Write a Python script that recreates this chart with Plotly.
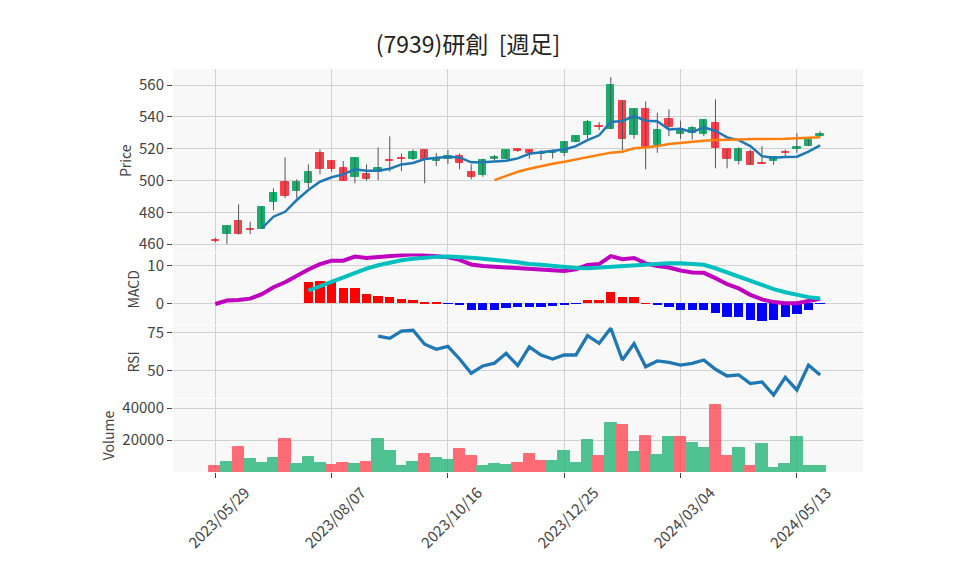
import pandas as pd
import plotly.graph_objects as go

# ---------------- data ----------------
dates = pd.date_range("2023-05-29", periods=53, freq="7D")

open_ = [462.6, 466.5, 474.3, 469.3, 469.6, 486.6, 499.0, 493.5, 498.6, 517.0,
         512.2, 507.6, 502.3, 503.8, 505.5, 512.7, 514.0, 513.7, 519.1, 512.4,
         513.7, 515.7, 505.3, 503.6, 513.5, 513.7, 519.5, 519.1, 517.0, 517.4,
         517.4, 524.4, 528.8, 534.3, 532.5, 549.7, 528.8, 544.7, 522.1, 538.4,
         529.4, 529.8, 529.4, 536.1, 519.7, 512.0, 517.9, 510.9, 512.0, 517.5,
         519.5, 521.8, 527.7]
high = [464.0, 471.5, 485.0, 474.0, 483.5, 495.0, 514.5, 500.7, 510.1, 519.5,
        512.3, 512.2, 514.0, 510.1, 520.8, 527.7, 517.0, 519.5, 519.2, 517.4,
        519.1, 517.0, 510.1, 513.7, 516.0, 519.3, 520.0, 519.2, 519.1, 519.5,
        524.5, 528.0, 538.0, 536.7, 565.0, 550.0, 545.0, 549.7, 542.6, 544.7,
        537.6, 534.2, 538.2, 551.0, 520.0, 520.8, 519.5, 521.6, 514.6, 519.5,
        529.6, 525.6, 530.9]
low = [461.0, 460.0, 466.0, 466.3, 469.5, 481.2, 488.9, 488.7, 495.2, 503.8,
       505.5, 499.8, 498.2, 499.8, 500.2, 505.5, 505.9, 512.8, 498.2, 509.1,
       510.3, 507.0, 500.7, 502.3, 512.4, 513.5, 518.0, 513.7, 512.8, 513.9,
       515.3, 524.0, 526.2, 531.7, 532.3, 519.1, 526.2, 507.0, 517.4, 527.9,
       526.2, 525.8, 527.9, 507.6, 507.6, 510.1, 509.9, 510.3, 509.9, 515.3,
       517.4, 521.6, 527.5]
close = [462.4, 471.3, 466.1, 469.1, 483.3, 492.1, 490.2, 499.0, 505.1, 507.4,
         507.0, 499.8, 513.9, 500.7, 507.8, 512.5, 513.8, 517.7, 513.3, 514.1,
         515.5, 510.8, 502.3, 512.8, 514.9, 519.1, 518.7, 517.5, 517.3, 518.7,
         524.2, 527.9, 536.7, 534.1, 559.8, 526.2, 544.7, 520.8, 531.7, 533.8,
         531.3, 533.0, 538.0, 520.6, 513.7, 519.7, 509.9, 510.7, 514.5, 517.3,
         521.0, 525.4, 529.2]
volume = [3750, 6250, 15400, 8100, 5600, 8750, 20600, 5000, 9400, 5600,
          4400, 5600, 5000, 6250, 20600, 13100, 3750, 6250, 11250, 8750,
          7500, 14400, 9800, 3750, 5000, 4400, 5600, 11100, 6700, 6700,
          12900, 5400, 19800, 9800, 30400, 29200, 12300, 22300, 10400, 21700,
          21700, 17900, 14800, 41700, 9800, 14800, 3500, 17300, 2300, 4800,
          21700, 3500, 3500]
N = None
ma5 = [N, N, N, N, 469.9, 477.2, 480.3, 487.7, 494.0, 499.2,
       502.0, 503.8, 507.0, 506.1, 506.1, 507.4, 510.1, 511.0, 513.5, 514.3,
       514.9, 514.5, 511.4, 511.4, 511.8, 512.4, 513.9, 516.8, 517.7, 518.5,
       519.5, 521.6, 525.4, 528.4, 536.8, 537.4, 540.5, 537.6, 537.2, 532.1,
       532.5, 530.4, 533.4, 531.1, 527.1, 525.4, 521.6, 515.3, 514.3, 514.7,
       514.9, 518.1, 522.1]
ma25 = [N] * 24 + [500.2, 502.8, 505.5, 507.4, 509.1, 510.5,
                   511.8, 513.3, 514.7, 516.0, 517.5, 518.1, 520.2, 520.8, 521.6, 522.9,
                   523.7, 524.4, 525.0, 525.4, 525.8, 525.8, 526.0, 526.0, 526.2, 526.2,
                   526.5, 526.7, 527.1]
macd = [0.0, 0.9, 1.05, 1.4, 2.6, 4.4, 5.7, 7.4, 9.1, 10.5,
        11.4, 11.4, 12.5, 12.1, 12.3, 12.5, 12.8, 13.1, 12.8, 12.5,
        12.3, 11.6, 10.4, 10.0, 9.8, 9.6, 9.5, 9.3, 8.9, 8.7,
        8.7, 9.1, 10.3, 10.5, 12.6, 11.8, 12.1, 10.7, 10.0, 9.6,
        8.8, 8.3, 8.2, 6.8, 5.2, 4.1, 2.4, 1.2, 0.5, 0.17,
        0.17, 0.8, 1.35]
signal = [N] * 8 + [3.5, 4.7,
          5.9, 7.0, 8.2, 9.3, 10.2, 10.9, 11.5, 11.9, 12.2, 12.4,
          12.5, 12.4, 12.2, 11.9, 11.7, 11.3, 11.0, 10.5, 10.3, 10.0,
          9.7, 9.5, 9.4, 9.6, 9.8, 10.1, 10.3, 10.5, 10.6, 10.7,
          10.7, 10.6, 10.3, 9.4, 8.3, 7.2, 6.1, 5.0, 3.9, 3.1,
          2.4, 1.8, 1.45]
hist = [N] * 8 + [5.6, 5.9,
        5.6, 4.2, 4.2, 2.6, 2.1, 1.6, 1.3, 1.05, 0.5, 0.26,
        -0.05, -0.45, -1.8, -1.8, -1.8, -1.3, -1.05, -0.9, -0.9, -0.7,
        -0.45, -0.05, 0.8, 1.05, 2.9, 1.6, 1.8, 0.1, -0.35, -0.9,
        -1.6, -1.8, -1.6, -2.5, -3.6, -3.6, -4.4, -4.6, -4.4, -3.6,
        -2.8, -1.6, -0.1]
rsi = [N] * 14 + [73.0, 71.5, 76.3, 76.8, 67.6, 64.3,
       66.2, 57.9, 48.5, 53.3, 55.1, 61.6, 53.5, 65.8, 60.5, 57.9,
       60.5, 60.5, 73.3, 68.2, 78.1, 57.2, 68.0, 52.8, 56.6, 55.7,
       53.9, 55.0, 57.2, 51.1, 46.7, 47.4, 41.7, 42.8, 34.2, 45.8,
       37.5, 53.9, 47.4]

tick_dates = ["2023-05-29", "2023-08-07", "2023-10-16", "2023-12-25", "2024-03-04", "2024-05-13"]
tick_labels = ["2023/05/29", "2023/08/07", "2023/10/16", "2023/12/25", "2024/03/04", "2024/05/13"]

# ---------------- styling ----------------
GREEN = "#16b06e"
RED = "#ff3d48"
WICK = "#555555"
GRID = "#d2d2d2"
BG = "#f8f8f8"
FONT = "Noto Sans CJK JP"
TICKFONT = dict(size=15, family=FONT, color="#444")
WEEK_MS = 7 * 24 * 3600 * 1000

# candle bodies
body_base, body_h, body_col = [], [], []
for o, c in zip(open_, close):
    lo, hi = min(o, c), max(o, c)
    h = hi - lo
    if h < 0.6:
        lo -= (0.6 - h) / 2
        h = 0.6
    body_base.append(lo)
    body_h.append(h)
    body_col.append(GREEN if c > o else RED)

wx, wy = [], []
for d, l, h in zip(dates, low, high):
    wx += [d, d, None]
    wy += [l, h, None]

vol_col = [RED] + [GREEN if close[i] >= close[i - 1] else RED for i in range(1, len(close))]
hist_col = [("#ff0000" if (v is not None and v >= 0) else "#0000ff") for v in hist]

fig = go.Figure()
fig.add_trace(go.Scatter(x=wx, y=wy, mode="lines", line=dict(color=WICK, width=1),
                         xaxis="x", yaxis="y", showlegend=False, hoverinfo="skip"))
fig.add_trace(go.Bar(x=dates, y=body_h, base=body_base, width=0.63 * WEEK_MS,
                     marker=dict(color=body_col, line=dict(color=body_col, width=1)),
                     xaxis="x", yaxis="y", showlegend=False))
fig.add_trace(go.Scatter(x=dates, y=ma5, mode="lines", line=dict(color="#1f77b4", width=2.5),
                         xaxis="x", yaxis="y", showlegend=False))
fig.add_trace(go.Scatter(x=dates, y=ma25, mode="lines", line=dict(color="#ff7f0e", width=2.5),
                         xaxis="x", yaxis="y", showlegend=False))

fig.add_trace(go.Bar(x=dates, y=hist, width=0.8 * WEEK_MS, marker=dict(color=hist_col, line=dict(width=0)),
                     xaxis="x2", yaxis="y2", showlegend=False))
fig.add_trace(go.Scatter(x=dates, y=macd, mode="lines", line=dict(color="#bf00bf", width=4),
                         xaxis="x2", yaxis="y2", showlegend=False))
fig.add_trace(go.Scatter(x=dates, y=signal, mode="lines", line=dict(color="#00bfbf", width=4),
                         xaxis="x2", yaxis="y2", showlegend=False))

fig.add_trace(go.Scatter(x=dates, y=rsi, mode="lines", line=dict(color="#1f77b4", width=3.3),
                         xaxis="x3", yaxis="y3", showlegend=False))

fig.add_trace(go.Bar(x=dates, y=volume, width=WEEK_MS, opacity=0.75,
                     marker=dict(color=vol_col, line=dict(color=vol_col, width=1)),
                     xaxis="x4", yaxis="y4", showlegend=False))

xr = ["2023-05-03 13:00", "2024-06-21 19:00"]
xcommon = dict(range=xr, type="date", tickvals=tick_dates, ticktext=tick_labels,
               showgrid=True, gridcolor=GRID, gridwidth=1, zeroline=False, showline=False)
ycommon = dict(showgrid=True, gridcolor=GRID, gridwidth=1, zeroline=False, showline=False,
               ticks="outside", ticklen=5, tickcolor="#444", tickfont=TICKFONT,
               title_font=dict(size=14, family=FONT, color="#444"), title_standoff=4)

fig.update_layout(
    width=942, height=559,
    margin=dict(l=165, r=87, t=61, b=95),
    paper_bgcolor="white", plot_bgcolor=BG,
    font=dict(family=FONT, color="#444", size=14),
    title=dict(text="(7939)研創  [週足]", x=0.4883, xanchor="center", y=0.934, yanchor="middle",
               xref="container", yref="container", font=dict(size=23, family=FONT, color="#222")),
    showlegend=False,
    bargap=0,
    xaxis=dict(xcommon, anchor="y", domain=[0, 1], showticklabels=False, ticks=""),
    xaxis2=dict(xcommon, anchor="y2", domain=[0, 1], matches="x", showticklabels=False, ticks=""),
    xaxis3=dict(xcommon, anchor="y3", domain=[0, 1], matches="x", showticklabels=False, ticks=""),
    xaxis4=dict(xcommon, anchor="y4", domain=[0, 1], matches="x", showticklabels=True,
                ticks="outside", ticklen=5, tickcolor="#444", tickangle=-45,
                ticklabelshift=30, ticklabelstandoff=0, tickfont=TICKFONT),
    yaxis=dict(ycommon, anchor="x", domain=[0.5447, 1.0], range=[454.7, 570.1],
               tickvals=[460, 480, 500, 520, 540, 560], title_text="Price"),
    yaxis2=dict(ycommon, anchor="x2", domain=[0.3648, 0.5422], range=[-5.53, 13.29],
                tickvals=[0, 10], title_text="MACD"),
    yaxis3=dict(ycommon, anchor="x3", domain=[0.1836, 0.3623], range=[32.2, 79.6],
                tickvals=[50, 75], title_text="RSI"),
    yaxis4=dict(ycommon, anchor="x4", domain=[0, 0.1811], range=[0, 45625],
                tickvals=[20000, 40000], tickformat="d", title_text="Volume"),
)

fig.write_html("out.html")
